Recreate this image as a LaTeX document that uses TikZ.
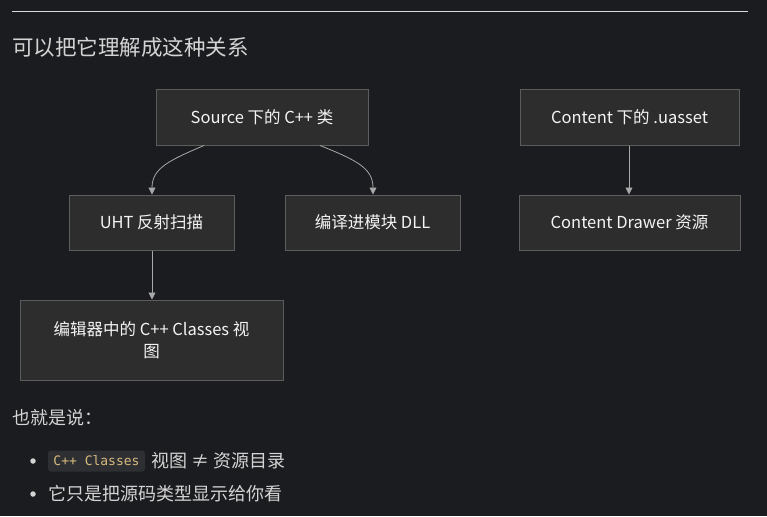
\documentclass[tikz,border=0pt]{standalone}
\usepackage{fontspec}
\setmainfont{Noto Sans CJK SC}
\newfontfamily\codefont{DejaVu Sans Mono}
\usetikzlibrary{arrows.meta}
\definecolor{bgc}{HTML}{1B1C1F}
\definecolor{boxfill}{HTML}{2D2D2D}
\definecolor{boxline}{HTML}{5C5C5C}
\definecolor{txt}{HTML}{D4D4D4}
\definecolor{boxtxt}{HTML}{F4F4F4}
\definecolor{arrc}{HTML}{A8A8A8}
\definecolor{codebg}{HTML}{2E2F33}
\definecolor{codetxt}{HTML}{D7BA7D}
\tikzset{
  flow/.style={draw=boxline, fill=boxfill, line width=1pt, text=boxtxt, font=\fontsize{16.5}{22}\selectfont, align=center, inner sep=0pt},
  conn/.style={draw=arrc, line width=0.8pt, -{Triangle[length=7pt,width=7pt]}},
  para/.style={text=txt, anchor=base west, inner sep=0pt, font=\fontsize{18}{20}\selectfont}
}
\begin{document}
\begin{tikzpicture}[x=1pt,y=-1pt]
\fill[bgc] (0,0) rectangle (767,516);
\useasboundingbox (0,0) rectangle (767,516);
\coordinate (r1) at (12,11);
\coordinate (r2) at (748,11);
\draw[color=txt!85, line width=0.8pt] (r1) -- (r2);
\node[para, font=\fontsize{21.5}{24}\selectfont] (title) at (12,55.5) {可以把它理解成这种关系};

\node[flow, minimum width=212pt, minimum height=55pt] (src) at (262,117.5) {Source 下的 C++ 类};
\node[flow, minimum width=219pt, minimum height=55pt] (cnt) at (629.5,117.5) {Content 下的 .uasset};
\node[flow, minimum width=165pt, minimum height=55pt] (uht) at (151.5,222.5) {UHT 反射扫描};
\node[flow, minimum width=175pt, minimum height=55pt] (dll) at (372.5,222.5) {编译进模块 DLL};
\node[flow, minimum width=221pt, minimum height=55pt] (drw) at (629.5,222.5) {Content Drawer 资源};
\node[flow, minimum width=263pt, minimum height=80pt] (view) at (151.5,340) {编辑器中的 C++ Classes 视\\图};

\draw[conn] (src.south -| 204,0) .. controls (170,160) and (152,168) .. (uht.north -| 152,0);
\draw[conn] (src.south -| 320,0) .. controls (356,160) and (373,168) .. (dll.north -| 373,0);
\draw[conn] (uht.south -| 152,0) -- (view.north -| 152,0);
\draw[conn] (cnt.south -| 629,0) -- (drw.north -| 629,0);

\node[para] (say) at (12,424.5) {也就是说：};
\node[fill=txt, circle, inner sep=0pt, minimum size=5.5pt] (b1) at (33,461) {};
\node[fill=codebg, rounded corners=3pt, inner sep=0pt, minimum width=97pt, minimum height=21pt] (code) at (96.5,461) {};
\node[text=codetxt, font=\codefont\fontsize{13}{15}\selectfont, inner sep=0pt] (codet) at (code.center) {C++ Classes};
\node[para] (l1) at (151,467) {视图 ≠ 资源目录};
\node[fill=txt, circle, inner sep=0pt, minimum size=5.5pt] (b2) at (33,494) {};
\node[para] (l2) at (48,500) {它只是把源码类型显示给你看};
\end{tikzpicture}
\end{document}
